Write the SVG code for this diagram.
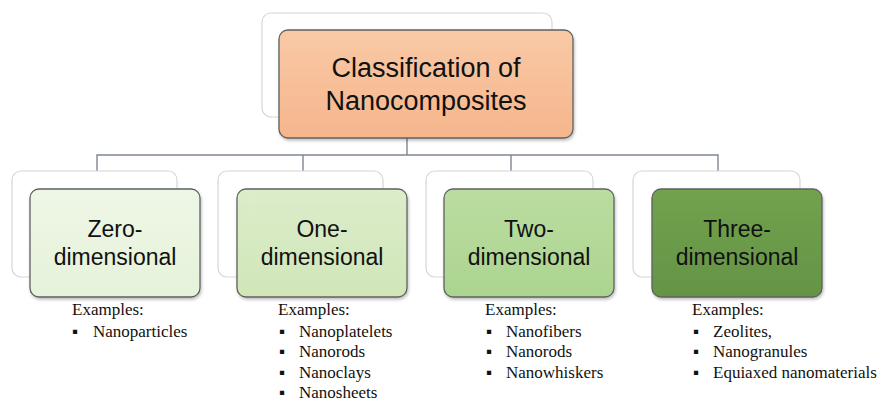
<svg xmlns="http://www.w3.org/2000/svg" width="882" height="402" viewBox="0 0 882 402">
<style>
.back{fill:#ffffff;stroke:#d6d6d6;stroke-width:1.2}
.box{stroke:#5f6160;stroke-width:1.3}
.lbl{font-family:"Liberation Sans",Arial,sans-serif;font-size:23px;fill:#111;text-anchor:middle}
.ttl{font-family:"Liberation Sans",Arial,sans-serif;font-size:27px;fill:#111;text-anchor:middle}
.ex{font-family:"Liberation Serif","Times New Roman",serif;font-size:17px;fill:#111}
.conn{fill:none;stroke:#7d8795;stroke-width:1.4}
</style>
<defs>
<linearGradient id="gOr" x1="0" y1="0" x2="0" y2="1"><stop offset="0" stop-color="#f9c9a6"/><stop offset="1" stop-color="#f5b68c"/></linearGradient>
<linearGradient id="g0" x1="0" y1="0" x2="0" y2="1"><stop offset="0" stop-color="#eef7e6"/><stop offset="1" stop-color="#e6f2da"/></linearGradient>
<linearGradient id="g1" x1="0" y1="0" x2="0" y2="1"><stop offset="0" stop-color="#dcedca"/><stop offset="1" stop-color="#d0e6b8"/></linearGradient>
<linearGradient id="g2" x1="0" y1="0" x2="0" y2="1"><stop offset="0" stop-color="#badda0"/><stop offset="1" stop-color="#acd490"/></linearGradient>
<linearGradient id="g3" x1="0" y1="0" x2="0" y2="1"><stop offset="0" stop-color="#72a24f"/><stop offset="1" stop-color="#649444"/></linearGradient>
<filter id="sh" x="-10%" y="-10%" width="120%" height="130%"><feDropShadow dx="1" dy="2" stdDeviation="1.5" flood-color="#000" flood-opacity="0.25"/></filter>
</defs>
<g id="connectors">
<path class="conn" d="M407 138 V155 M97 171 V155 H718 V171 M303 155 V171 M511 155 V171"/>
</g>
<g id="root">
<rect class="back" x="262" y="13" width="290" height="104" rx="9"/>
<rect class="box" x="279" y="30" width="294" height="108" rx="9" fill="url(#gOr)" filter="url(#sh)"/>
<text class="ttl" x="426" y="77">Classification of</text>
<text class="ttl" x="426" y="110">Nanocomposites</text>
</g>
<g id="zero">
<rect class="back" x="12" y="171" width="165" height="106" rx="9"/>
<rect class="box" x="30" y="189" width="170" height="108" rx="9" fill="url(#g0)" filter="url(#sh)"/>
<text class="lbl" x="115" y="237">Zero-</text>
<text class="lbl" x="115" y="265">dimensional</text>
<text class="ex" x="72" y="315">Examples:</text>
<text class="ex" x="72" y="337">▪</text><text class="ex" x="93" y="337">Nanoparticles</text>
</g>
<g id="one">
<rect class="back" x="218" y="171" width="165" height="106" rx="9"/>
<rect class="box" x="237" y="189" width="170" height="108" rx="9" fill="url(#g1)" filter="url(#sh)"/>
<text class="lbl" x="322" y="237">One-</text>
<text class="lbl" x="322" y="265">dimensional</text>
<text class="ex" x="278" y="315">Examples:</text>
<text class="ex" x="279" y="337">▪</text><text class="ex" x="299" y="337">Nanoplatelets</text>
<text class="ex" x="279" y="357">▪</text><text class="ex" x="299" y="357">Nanorods</text>
<text class="ex" x="279" y="378">▪</text><text class="ex" x="299" y="378">Nanoclays</text>
<text class="ex" x="279" y="398">▪</text><text class="ex" x="299" y="398">Nanosheets</text>
</g>
<g id="two">
<rect class="back" x="426" y="171" width="167" height="106" rx="9"/>
<rect class="box" x="444" y="189" width="170" height="108" rx="9" fill="url(#g2)" filter="url(#sh)"/>
<text class="lbl" x="529" y="237">Two-</text>
<text class="lbl" x="529" y="265">dimensional</text>
<text class="ex" x="485" y="315">Examples:</text>
<text class="ex" x="486" y="337">▪</text><text class="ex" x="506" y="337">Nanofibers</text>
<text class="ex" x="486" y="357">▪</text><text class="ex" x="506" y="357">Nanorods</text>
<text class="ex" x="486" y="378">▪</text><text class="ex" x="506" y="378">Nanowhiskers</text>
</g>
<g id="three">
<rect class="back" x="633" y="171" width="167" height="106" rx="9"/>
<rect class="box" x="652" y="189" width="170" height="108" rx="9" fill="url(#g3)" filter="url(#sh)"/>
<text class="lbl" x="737" y="237">Three-</text>
<text class="lbl" x="737" y="265">dimensional</text>
<text class="ex" x="692" y="315">Examples:</text>
<text class="ex" x="693" y="337">▪</text><text class="ex" x="713" y="337">Zeolites,</text>
<text class="ex" x="693" y="357">▪</text><text class="ex" x="713" y="357">Nanogranules</text>
<text class="ex" x="693" y="378">▪</text><text class="ex" x="713" y="378">Equiaxed nanomaterials</text>
</g>
</svg>
